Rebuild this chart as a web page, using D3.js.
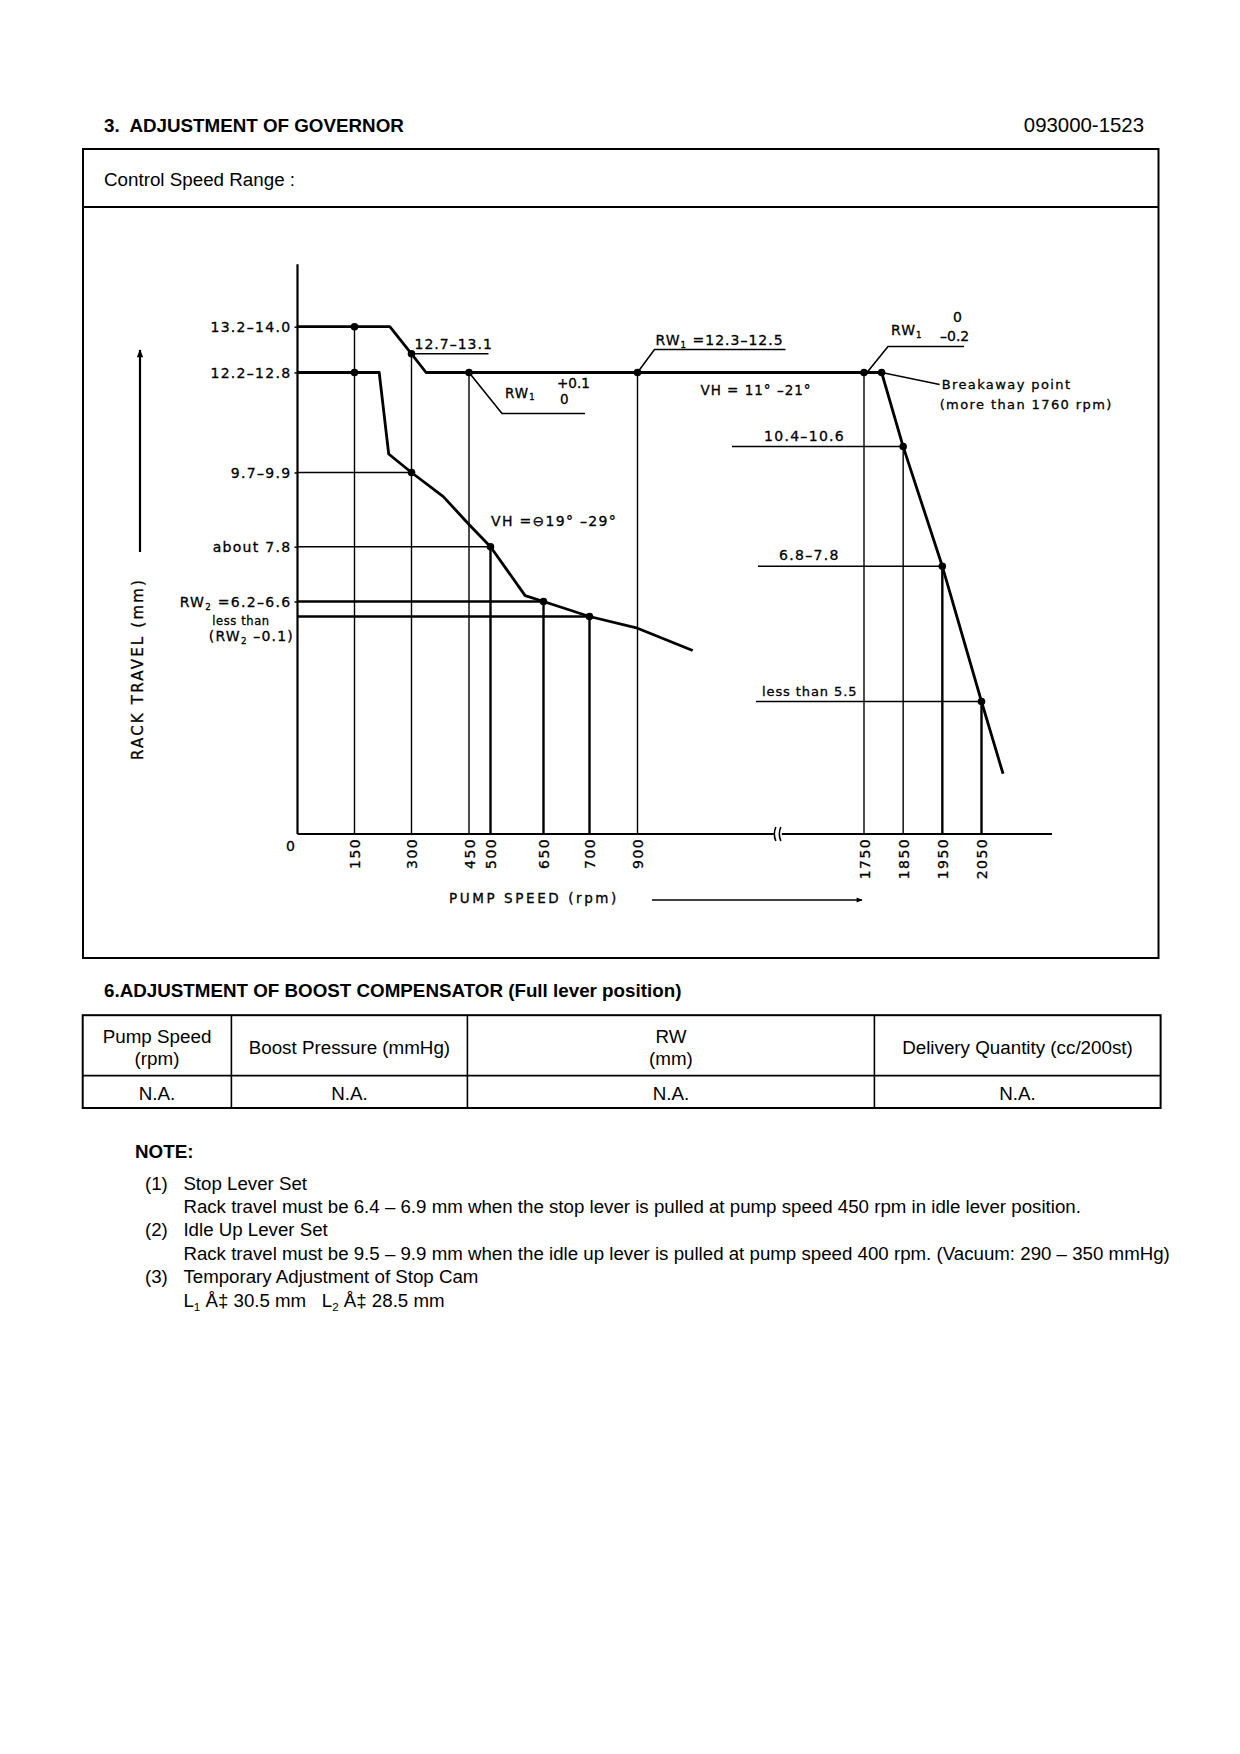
<!DOCTYPE html>
<html>
<head>
<meta charset="utf-8">
<title>Adjustment of governor 093000-1523</title>
<script src="https://cdn.jsdelivr.net/npm/d3@7"></script>
<style>
  html, body { margin: 0; padding: 0; background: #fff; }
  svg { display: block; }
  .page text { font-family: "Liberation Sans", Arial, Helvetica, sans-serif; fill: #000; white-space: pre; }
  .chart text { font-family: "DejaVu Sans", Verdana, sans-serif; fill: #000; white-space: pre;
    stroke: #000; stroke-width: 0.3px; }
</style>
</head>
<body>
<svg id="sheet" width="1240" height="1754"></svg>
<script>
// ---- governor curve data (pump speed rpm, rack travel mm) ----
const lowTicks = [150, 300, 450, 500, 650, 700, 900];
const highTicks = [1750, 1850, 1950, 2050];

const fullLever = [[0, 13.6], [150, 13.6], [243, 13.6], [300, 12.95], [338, 12.5], [450, 12.5], [900, 12.5],
  [1750, 12.5], [1795, 12.5], [1850, 10.5], [1950, 7.3], [2050, 5.5], [2105, 2.5]];
const idleLever = [[0, 12.5], [150, 12.5], [215, 12.5], [240, 10.3], [300, 9.8], [383, 9.15], [450, 8.4],
  [500, 7.8], [598, 6.55], [650, 6.4], [700, 6.3], [900, 6.19], [1130, 5.98]];

const fullDots = [[150, 13.6], [300, 12.95], [450, 12.5], [900, 12.5], [1750, 12.5], [1795, 12.5], [1850, 10.5], [1950, 7.3], [2050, 5.5]];
const idleDots = [[150, 12.5], [300, 9.8], [500, 7.8], [650, 6.4], [700, 6.3]];

// vertical lines dropped from the measuring points
const dropLines = [[150, 13.6], [300, 12.95], [450, 12.5], [500, 7.8], [650, 6.4], [700, 6.3], [900, 12.5],
  [1750, 12.5], [1850, 10.5], [1950, 7.3], [2050, 5.5]];
const boldDrops = [500, 650, 700, 1950, 2050];

// levels on the rack travel axis
const levelValues = [13.6, 12.5, 9.8, 7.8, 6.4];
const levelLabels = ['13.2–14.0', '12.2–12.8', '9.7–9.9', 'about 7.8', 'RW_2 =6.2–6.6'];
const leftRefLines = [[9.8, 300], [7.8, 500], [6.4, 650], [6.3, 700]];

const rightLevels = [10.5, 7.3, 5.5];
const rightLevelRpm = [1850, 1950, 2050];
const rightLabels = ['10.4–10.6', '6.8–7.8', 'less than 5.5'];

// boost compensator table + notes
const tableHead = [['Pump Speed', '(rpm)'], ['Boost Pressure (mmHg)'], ['RW', '(mm)'], ['Delivery Quantity (cc/200st)']];
const tableRow = ['N.A.', 'N.A.', 'N.A.', 'N.A.'];
const noteNums = ['(1)', '(2)', '(3)'];
const noteTitles = ['Stop Lever Set', 'Idle Up Lever Set', 'Temporary Adjustment of Stop Cam'];
const noteBodies = [
  'Rack travel must be 6.4 – 6.9 mm when the stop lever is pulled at pump speed 450 rpm in idle lever position.',
  'Rack travel must be 9.5 – 9.9 mm when the idle up lever is pulled at pump speed 400 rpm. (Vacuum: 290 – 350 mmHg)',
  'L_1 Å‡ 30.5 mm   L_2 Å‡ 28.5 mm'
];

const svg = d3.select('#sheet');
const PAGE_FS = 18.8;

// text with "_n" subscripts
function rich(sel, str) {
  str.split(/(_\d)/).forEach(p => {
    if (!p) return;
    if (p[0] === '_') {
      sel.append('tspan').attr('font-size', '0.62em').attr('baseline-shift', '-30%').text(p.slice(1));
    } else {
      sel.append('tspan').text(p);
    }
  });
  return sel;
}

// ---------- page frame ----------
const page = svg.append('g').attr('class', 'page');
page.append('text').attr('x', 104).attr('y', 131.5).attr('font-size', PAGE_FS).attr('font-weight', 'bold')
  .text('3.  ADJUSTMENT OF GOVERNOR');
page.append('text').attr('x', 1144).attr('y', 131.5).attr('font-size', 20.4).attr('text-anchor', 'end')
  .text('093000-1523');
page.append('rect').attr('x', 83).attr('y', 149).attr('width', 1075.5).attr('height', 809)
  .attr('fill', 'none').attr('stroke', '#000').attr('stroke-width', 2);
page.append('line').attr('x1', 83).attr('x2', 1158.5).attr('y1', 207).attr('y2', 207)
  .attr('stroke', '#000').attr('stroke-width', 2);
page.append('text').attr('x', 104).attr('y', 185.5).attr('font-size', PAGE_FS).text('Control Speed Range :');

// ---------- governor chart ----------
const chart = svg.append('g').attr('class', 'chart');

// schematic (non-uniform) speed axis, broken between 900 and 1750 rpm
const xL = d3.scaleLinear().domain([0, 150, 300, 450, 500, 650, 700, 900])
  .range([297.5, 354.5, 411.5, 469, 490.5, 543.5, 589.5, 637.5]);
const xR = d3.scaleLinear().domain([1750, 2050]).range([864, 981.5]);
const xPos = r => r < 1400 ? xL(r) : xR(r);
const y = d3.scaleLinear().domain([0, 5.5, 6.3, 6.4, 7.8, 9.8, 12.5, 13.6])
  .range([834, 701.5, 616.5, 601.5, 546.7, 472.5, 372.5, 326.7]);

const ink = '#000';

// axis lines
chart.append('line').attr('x1', xL(0)).attr('x2', xL(0)).attr('y1', y(0)).attr('y2', y(15.1))
  .attr('stroke', ink).attr('stroke-width', 2.2);
chart.append('line').attr('x1', xL(0)).attr('x2', xR(2230)).attr('y1', y(0)).attr('y2', y(0))
  .attr('stroke', ink).attr('stroke-width', 2.2);
// break mark
const bx = xR(1530);
chart.append('rect').attr('x', bx - 4).attr('y', y(0) - 3).attr('width', 8).attr('height', 6).attr('fill', '#fff');
[-3, 2].forEach(o => chart.append('path')
  .attr('d', `M${bx + o + 1},${y(0) - 7} Q${bx + o - 2},${y(0)} ${bx + o + 1},${y(0) + 7}`)
  .attr('fill', 'none').attr('stroke', ink).attr('stroke-width', 1.6));

// rack travel axis ticks + labels
const yAxis = chart.append('g').attr('transform', `translate(${xL(0)},0)`)
  .call(d3.axisLeft(y).tickValues(levelValues).tickSize(3).tickPadding(3)
    .tickFormat((d, i) => levelLabels[i]));
yAxis.select('.domain').remove();
yAxis.selectAll('line').attr('stroke', ink).attr('stroke-width', 1.5);
yAxis.selectAll('text').each(function (d, i) {
  const t = d3.select(this).text(null)
    .attr('font-size', 14).attr('letter-spacing', 1.3).attr('font-family', '"DejaVu Sans", sans-serif')
    .attr('dy', '0.36em');
  rich(t, levelLabels[i]);
});
chart.append('text').attr('x', 241).attr('y', y(6.3) + 8).attr('text-anchor', 'middle')
  .attr('font-size', 11.5).attr('letter-spacing', 0.6).text('less than');
rich(chart.append('text').attr('x', 294).attr('y', y(6.3) + 24).attr('text-anchor', 'end')
  .attr('font-size', 14).attr('letter-spacing', 1.2), '(RW_2 –0.1)');

// speed axis labels (rotated)
function speedAxis(scale, ticks) {
  const g = chart.append('g').attr('transform', `translate(0,${y(0)})`)
    .call(d3.axisBottom(scale).tickValues(ticks).tickSize(0).tickFormat(d3.format('d')));
  g.select('.domain').remove();
  g.selectAll('text')
    .attr('font-size', 14).attr('letter-spacing', 1.4).attr('font-family', '"DejaVu Sans", sans-serif')
    .attr('text-anchor', 'end').attr('transform', 'rotate(-90)')
    .attr('x', -4).attr('y', 0).attr('dy', '0.36em');
}
speedAxis(xL, lowTicks);
speedAxis(xR, highTicks);
chart.append('text').attr('x', xL(0) - 7).attr('y', y(0) + 17).attr('text-anchor', 'middle')
  .attr('font-size', 14).text('0');

// drop lines and reference lines
chart.append('g').selectAll('line').data(dropLines).join('line')
  .attr('x1', d => xPos(d[0])).attr('x2', d => xPos(d[0]))
  .attr('y1', d => y(d[1])).attr('y2', y(0))
  .attr('stroke', ink).attr('stroke-width', d => boldDrops.includes(d[0]) ? 2.4 : 1.4);
chart.append('g').selectAll('line').data(leftRefLines).join('line')
  .attr('x1', xL(0)).attr('x2', d => xPos(d[1]))
  .attr('y1', d => y(d[0])).attr('y2', d => y(d[0]))
  .attr('stroke', ink).attr('stroke-width', d => d[0] < 7 ? 2.3 : 1.4);
const rightLead = [132, 106, 108];
const rightPad = [32, 21, 6];
rightLevels.forEach((v, i) => {
  chart.append('line').attr('x1', xR(1750) - rightLead[i]).attr('x2', xR(rightLevelRpm[i]))
    .attr('y1', y(v)).attr('y2', y(v)).attr('stroke', ink).attr('stroke-width', 1.6);
  chart.append('text').attr('x', xR(1750) - rightLead[i] + rightPad[i]).attr('y', y(v) - 6)
    .attr('font-size', i === 2 ? 13 : 14).attr('letter-spacing', i === 2 ? 0.9 : 1.3).text(rightLabels[i]);
});

// curves
const line = d3.line().x(d => xPos(d[0])).y(d => y(d[1]));
[fullLever, idleLever].forEach(c => chart.append('path').datum(c).attr('d', line)
  .attr('fill', 'none').attr('stroke', ink).attr('stroke-width', 2.8).attr('stroke-linejoin', 'round'));
chart.append('g').selectAll('circle').data(fullDots.concat(idleDots)).join('circle')
  .attr('cx', d => xPos(d[0])).attr('cy', d => y(d[1])).attr('r', 3.8).attr('fill', ink);

// annotations
function leader(pts, w) {
  chart.append('path').attr('d', d3.line()(pts)).attr('fill', 'none')
    .attr('stroke', ink).attr('stroke-width', w || 1.6);
}
const p300 = [xL(300), y(12.95)];
leader([p300, [p300[0] + 77, p300[1]]]);
chart.append('text').attr('x', p300[0] + 3).attr('y', p300[1] - 5).attr('font-size', 14)
  .attr('letter-spacing', 1).text('12.7–13.1');

const p450 = [xL(450), y(12.5)];
leader([p450, [p450[0] + 33, p450[1] + 41], [p450[0] + 116, p450[1] + 41]]);
rich(chart.append('text').attr('x', p450[0] + 36).attr('y', p450[1] + 25).attr('font-size', 13.5)
  .attr('letter-spacing', 1), 'RW_1');
chart.append('text').attr('x', p450[0] + 88).attr('y', p450[1] + 15).attr('font-size', 13.5).text('+0.1');
chart.append('text').attr('x', p450[0] + 91).attr('y', p450[1] + 31).attr('font-size', 13.5).text('0');

const p900 = [xL(900), y(12.5)];
leader([p900, [p900[0] + 17, p900[1] - 23], [p900[0] + 148, p900[1] - 23]]);
rich(chart.append('text').attr('x', p900[0] + 18).attr('y', p900[1] - 28).attr('font-size', 14)
  .attr('letter-spacing', 1), 'RW_1 =12.3–12.5');
chart.append('text').attr('x', 756).attr('y', p900[1] + 22).attr('text-anchor', 'middle')
  .attr('font-size', 13.5).attr('letter-spacing', 1).text('VH = 11° –21°');

const p1750 = [xR(1750), y(12.5)];
leader([[p1750[0] + 3, p1750[1]], [p1750[0] + 24, p1750[1] - 26], [p1750[0] + 100, p1750[1] - 26]]);
rich(chart.append('text').attr('x', p1750[0] + 27).attr('y', p1750[1] - 38).attr('font-size', 14)
  .attr('letter-spacing', 1), 'RW_1');
chart.append('text').attr('x', p1750[0] + 89).attr('y', p1750[1] - 51).attr('font-size', 14).text('0');
chart.append('text').attr('x', p1750[0] + 76).attr('y', p1750[1] - 32).attr('font-size', 14).text('–0.2');

const pBrk = [xR(1795), y(12.5)];
leader([pBrk, [pBrk[0] + 58, pBrk[1] + 12]], 1.3);
chart.append('text').attr('x', pBrk[0] + 60).attr('y', pBrk[1] + 16).attr('font-size', 13)
  .attr('letter-spacing', 1.4).text('Breakaway point');
chart.append('text').attr('x', pBrk[0] + 58).attr('y', pBrk[1] + 36).attr('font-size', 13)
  .attr('letter-spacing', 1.4).text('(more than 1760 rpm)');

chart.append('text').attr('x', 491).attr('y', 526).attr('font-size', 14).attr('letter-spacing', 1.3)
  .text('VH =⊖19° –29°');

// axis titles with arrows
const defs = svg.append('defs');
defs.append('marker').attr('id', 'head').attr('viewBox', '0 0 10 10').attr('refX', 9).attr('refY', 5)
  .attr('markerWidth', 10).attr('markerHeight', 6).attr('orient', 'auto').attr('markerUnits', 'userSpaceOnUse')
  .append('path').attr('d', 'M0,1 L10,5 L0,9 Z').attr('fill', ink);
defs.append('marker').attr('id', 'headY').attr('viewBox', '0 0 10 10').attr('refX', 9).attr('refY', 5)
  .attr('markerWidth', 16).attr('markerHeight', 8).attr('orient', 'auto').attr('markerUnits', 'userSpaceOnUse')
  .append('path').attr('d', 'M0,1 L10,5 L0,9 Z').attr('fill', ink);

chart.append('line').attr('x1', 140).attr('x2', 140).attr('y1', 552).attr('y2', 350)
  .attr('stroke', ink).attr('stroke-width', 2.2).attr('marker-end', 'url(#headY)');
chart.append('text').attr('transform', 'translate(143,669) rotate(-90)').attr('text-anchor', 'middle')
  .attr('font-size', 15).attr('letter-spacing', 2.2).text('RACK TRAVEL (mm)');

chart.append('text').attr('x', 534).attr('y', 903).attr('text-anchor', 'middle')
  .attr('font-size', 13.5).attr('letter-spacing', 2.6).text('PUMP SPEED (rpm)');
chart.append('line').attr('x1', 652).attr('x2', 862).attr('y1', 900).attr('y2', 900)
  .attr('stroke', ink).attr('stroke-width', 1.4).attr('marker-end', 'url(#head)');

// ---------- boost compensator ----------
page.append('text').attr('x', 104).attr('y', 997).attr('font-size', PAGE_FS).attr('font-weight', 'bold')
  .text('6.ADJUSTMENT OF BOOST COMPENSATOR (Full lever position)');

const colEdges = [82.7, 231.4, 467.4, 874.4, 1160.6];
const rowEdges = [1015.2, 1075.6, 1108];
const tbl = page.append('g');
tbl.append('rect').attr('x', colEdges[0]).attr('y', rowEdges[0])
  .attr('width', colEdges[4] - colEdges[0]).attr('height', rowEdges[2] - rowEdges[0])
  .attr('fill', 'none').attr('stroke', ink).attr('stroke-width', 2);
tbl.append('line').attr('x1', colEdges[0]).attr('x2', colEdges[4]).attr('y1', rowEdges[1]).attr('y2', rowEdges[1])
  .attr('stroke', ink).attr('stroke-width', 1.6);
colEdges.slice(1, 4).forEach(x => tbl.append('line').attr('x1', x).attr('x2', x)
  .attr('y1', rowEdges[0]).attr('y2', rowEdges[2]).attr('stroke', ink).attr('stroke-width', 1.6));
tableHead.forEach((lines, i) => {
  const cx = (colEdges[i] + colEdges[i + 1]) / 2;
  const mid = (rowEdges[0] + rowEdges[1]) / 2;
  lines.forEach((s, j) => tbl.append('text').attr('x', cx)
    .attr('y', mid + 8.5 + (j - (lines.length - 1) / 2) * 22.4)
    .attr('text-anchor', 'middle').attr('font-size', PAGE_FS).text(s));
});
tableRow.forEach((s, i) => tbl.append('text').attr('x', (colEdges[i] + colEdges[i + 1]) / 2)
  .attr('y', (rowEdges[1] + rowEdges[2]) / 2 + 8.5).attr('text-anchor', 'middle').attr('font-size', PAGE_FS).text(s));

// ---------- notes ----------
page.append('text').attr('x', 135).attr('y', 1157.5).attr('font-size', PAGE_FS).attr('font-weight', 'bold').text('NOTE:');
noteNums.forEach((n, i) => {
  const y0 = 1189.5 + i * 46.8;
  page.append('text').attr('x', 145).attr('y', y0).attr('font-size', 18.7).text(n);
  page.append('text').attr('x', 183.4).attr('y', y0).attr('font-size', 18.7).text(noteTitles[i]);
  rich(page.append('text').attr('x', 183.4).attr('y', y0 + 23.4).attr('font-size', 18.7), noteBodies[i]);
});
</script>
</body>
</html>
